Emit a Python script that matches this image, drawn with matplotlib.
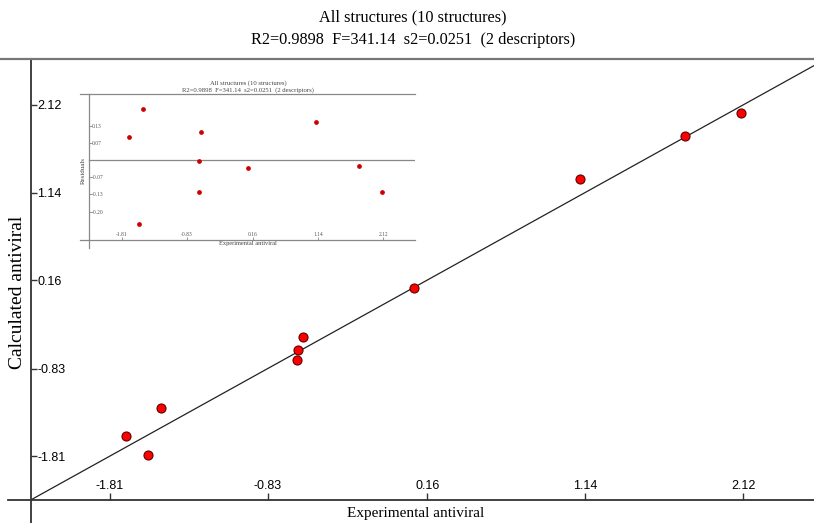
import numpy as np
import matplotlib
matplotlib.use("Agg")
import matplotlib.pyplot as plt

# experimental vs calculated antiviral activity (10 structures)
exp_act = [-1.71, -1.57, -1.49, -0.65, -0.64, -0.61, 0.08, 1.11, 1.76, 2.11]
calc_act = [-1.59, -1.80, -1.27, -0.735, -0.62, -0.48, 0.07, 1.29, 1.77, 2.03]

# residuals shown in the small inset plot
res_x = [-1.70, -1.49, -1.56, -0.62, -0.65, -0.65, 0.08, 1.11, 1.76, 2.11]
res_y = [0.089, 0.196, -0.247, 0.108, -0.005, -0.124, -0.032, 0.148, -0.022, -0.123]

ticks = [-1.81, -0.83, 0.16, 1.14, 2.12]
tick_labels = ["-1.81", "-0.83", "0.16", "1.14", "2.12"]
res_ticks = [0.133, 0.067, -0.067, -0.133, -0.20]
res_tick_labels = ["0.13", "0.07", "-0.07", "-0.13", "-0.20"]

fit_slope, fit_icpt = 1.0, 0.0

title1 = "All structures (10 structures)"
title2 = "R2=0.9898  F=341.14  s2=0.0251  (2 descriptors)"

serif = "Liberation Serif"
sans = "Liberation Sans"
W, H = 814, 523

fig = plt.figure(figsize=(W / 100, H / 100), dpi=100)
fig.patch.set_facecolor("white")

# ---- main plot
ax = fig.add_axes([0, 0, 1, (H - 59) / H])
ax.set_xlim(-2.491, 2.560)
ax.set_ylim(-2.558, 2.634)
ax.spines["right"].set_visible(False)
ax.spines["left"].set_position(("data", -2.30))
ax.spines["bottom"].set_position(("data", -2.30))
ax.spines["bottom"].set_bounds(-2.442, 2.560)
for s in ("left", "bottom"):
    ax.spines[s].set_color("#333333")
    ax.spines[s].set_linewidth(1.3)
ax.spines["top"].set_color("#777777")
ax.spines["top"].set_linewidth(1.6)

fx = np.array([-2.30, 2.56])
ax.plot(fx, fit_slope * fx + fit_icpt, color="#222222", lw=0.9, zorder=2)
ax.plot(exp_act, calc_act, "o", ms=6.5, mfc="#ff0000", mec="#600000", mew=0.8, zorder=3)

ax.set_xticks(ticks)
ax.set_xticklabels(tick_labels, fontfamily=sans, fontsize=9)
ax.set_yticks(ticks)
ax.set_yticklabels(tick_labels, fontfamily=sans, fontsize=9)
ax.tick_params(axis="x", direction="in", length=5, width=1, color="#333333", pad=-6)
ax.tick_params(axis="y", direction="in", length=4, width=1, color="#333333", pad=-4.5)
plt.setp(ax.get_xticklabels(), va="bottom")
plt.setp(ax.get_yticklabels(), ha="left")

fig.text(416 / W, 1 - 513 / H, "Experimental antiviral", family=serif, fontsize=11,
         ha="center", va="center")
fig.text(18 / W, 1 - 292 / H, "Calculated antiviral", family=serif, fontsize=14,
         ha="center", va="center", rotation=90)
fig.text(413 / W, 1 - 17 / H, title1, family=serif, fontsize=11.7, ha="center", va="center")
fig.text(413 / W, 1 - 40 / H, title2, family=serif, fontsize=11.7, ha="center", va="center")

# ---- inset: residuals
ins = fig.add_axes([80 / W, (H - 248) / H, 335 / W, 154 / H])
ins.patch.set_alpha(0)
ins.set_xlim(-2.441, 2.600)
ins.set_ylim(-0.340, 0.255)
ins.spines["right"].set_visible(False)
ins.spines["left"].set_position(("data", -2.30))
ins.spines["bottom"].set_position(("data", -0.309))
for s in ("left", "bottom", "top"):
    ins.spines[s].set_color("#888888")
    ins.spines[s].set_linewidth(0.9)
ins.axhline(0, color="#888888", lw=0.9, xmin=(-2.30 + 2.441) / 5.041)
ins.plot(res_x, res_y, "o", ms=2.4, color="#cc0000", mec="#cc0000", zorder=3)
ins.set_xticks(ticks)
ins.set_xticklabels(tick_labels, fontfamily=serif, fontsize=4, color="#555555")
ins.set_yticks(res_ticks)
ins.set_yticklabels(res_tick_labels, fontfamily=serif, fontsize=4, color="#555555")
ins.tick_params(axis="x", direction="in", length=2, width=0.6, color="#888888", pad=-2.5)
ins.tick_params(axis="y", direction="in", length=2, width=0.6, color="#888888", pad=-2)
plt.setp(ins.get_xticklabels(), va="bottom")
plt.setp(ins.get_yticklabels(), ha="left")

fig.text(248 / W, 1 - 243 / H, "Experimental antiviral", family=serif, fontsize=4.6,
         ha="center", va="center", color="#444444")
fig.text(83 / W, 1 - 171 / H, "Residuals", family=serif, fontsize=5,
         ha="center", va="center", rotation=90, color="#444444")
fig.text(248 / W, 1 - 83 / H, title1, family=serif, fontsize=4.8, ha="center",
         va="center", color="#444444")
fig.text(248 / W, 1 - 90.5 / H, title2, family=serif, fontsize=4.8, ha="center",
         va="center", color="#444444")

fig.savefig("out.png", dpi=100)
